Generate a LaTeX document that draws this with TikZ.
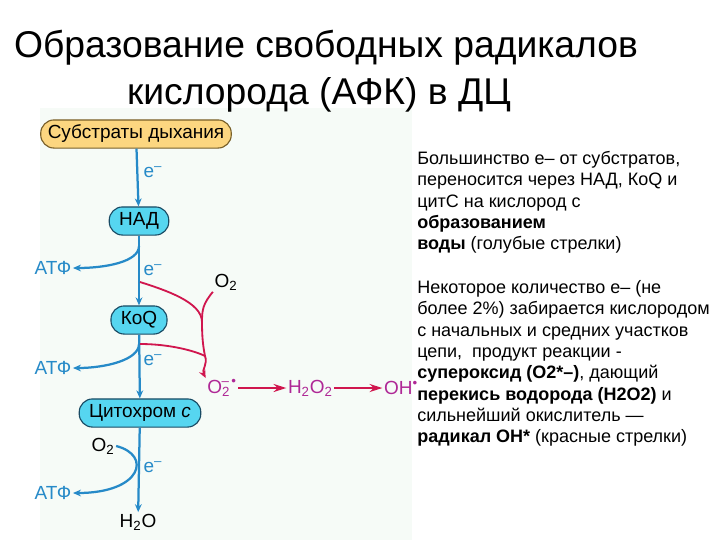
\documentclass[tikz,border=0pt]{standalone}
\usepackage{fontspec}
\setmainfont{Liberation Sans}
\usepackage{tikz}
\usetikzlibrary{arrows.meta, positioning}
\definecolor{chainblue}{RGB}{38,138,200}
\definecolor{boxcyan}{RGB}{86,214,240}
\definecolor{boxedge}{RGB}{25,75,100}
\definecolor{substyellow}{RGB}{252,214,128}
\definecolor{substedge}{RGB}{120,95,40}
\definecolor{radred}{RGB}{208,22,78}
\definecolor{radtext}{RGB}{175,40,150}
\definecolor{panelbg}{RGB}{246,251,247}

\begin{document}
\begin{tikzpicture}[
    x=0.025cm, y=-0.025cm,
    every node/.style={font=\fontsize{13.5}{15}\selectfont},
    title/.style={font=\fontsize{26.5}{32}\selectfont, inner sep=0pt},
    subst/.style={draw=substedge, fill=substyellow, rounded corners=9.5pt, minimum height=20pt, inner xsep=5pt, line width=0.8pt},
    carrier/.style={draw=boxedge, fill=boxcyan, rounded corners=9.5pt, minimum height=20pt, inner xsep=7pt, line width=0.8pt},
    lbl/.style={text=chainblue, inner sep=1pt},
    rad/.style={text=radtext, inner sep=1pt},
    note/.style={font=\fontsize{12.8}{15.2}\selectfont, align=left, anchor=north west, inner sep=0pt},
    bar/.style={-{Stealth[length=2mm, width=1.7mm]}, chainblue, line width=1.6pt},
    rline/.style={radred, line width=1.3pt},
    rar/.style={-{Stealth[length=2mm, width=1.7mm]}, radred, line width=1.3pt},
    har/.style={-{Stealth[length=3.2mm, width=2mm]}, radred, line width=2pt}
]
\useasboundingbox (0,0) rectangle (720,540);
\fill[panelbg] (40,108) rectangle (412,540);

% title
\node[title] (t1) at (326,48) {Образование свободных радикалов};
\node[title] (t2) at (319,95) {кислорода (АФК) в ДЦ};

% respiratory chain
\node[subst] (subst) at (136,134) {Субстраты дыхания};
\node[carrier] (nad) at (139,221) {НАД};
\node[carrier] (koq) at (139,320) {КоQ};
\node[carrier] (cyt) at (140,413) {Цитохром \textit{c}};
\node[inner sep=1pt] (h2o) at (138,522) {H\textsubscript{2}O};

\node[lbl, anchor=west] (e1) at (142,172) {e\textsuperscript{–}};
\node[lbl, anchor=west] (e2) at (142,270) {e\textsuperscript{–}};
\node[lbl, anchor=west] (e3) at (142,360) {e\textsuperscript{–}};
\node[lbl, anchor=west] (e4) at (142,467) {e\textsuperscript{–}};
\node[lbl] (atp1) at (53,268) {АТФ};
\node[lbl] (atp2) at (53,368) {АТФ};
\node[lbl] (atp3) at (53,493) {АТФ};
\node[inner sep=1pt] (o2low) at (103,446) {O\textsubscript{2}};

\draw[bar] (subst) -- (nad);
\draw[bar] (nad) -- (koq);
\draw[bar] (koq) -- (cyt);
\draw[bar] (cyt) -- (h2o);

\coordinate (br1) at (139,246);
\coordinate (br2) at (139,344);
\draw[bar] (br1) .. controls +(0,16) and +(32,0) .. (atp1.east);
\draw[bar] (br2) .. controls +(0,16) and +(32,0) .. (atp2.east);
\draw[bar] (o2low.east) .. controls (152,455) and (142,493) .. (atp3.east);

% radicals
\node[inner sep=1pt] (o2up) at (226,282) {O\textsubscript{2}};
\node[rad] (sup) at (222,388) {O\textsubscript{2}\kern-0.45em\textsuperscript{–\,•}};
\node[rad, right=1.2cm of sup] (h2o2) {H\textsubscript{2}O\textsubscript{2}};
\node[rad, right=1.2cm of h2o2] (oh) {OH\textsuperscript{•}};

\coordinate (r1) at (140,282);
\coordinate (r2) at (140,344);
\coordinate (join) at (202,322);
\coordinate (join2) at (205,356);
\draw[rline] (r1) .. controls +(25,8) and +(0,-20) .. (join);
\draw[rline] (o2up.south west) .. controls +(-10,12) and +(0,-12) .. (join);
\draw[rline] (join) .. controls +(0,15) and +(-2,-10) .. (join2);
\draw[rline] (r2) .. controls +(30,0) and +(-10,-5) .. (join2);
\draw[rar] (join2) .. controls +(3,8) and +(-4,-8) .. (sup.north west);
\draw[har] (sup) -- (h2o2);
\draw[har] (h2o2) -- (oh);

% explanation
\node[note] (p1) at (417,151) {Большинство е– от субстратов,\\
переносится через НАД, КоQ и\\
цитС на кислород с\\
\textbf{образованием}\\
\textbf{воды} (голубые стрелки)};
\node[note] (p2) at (417,280) {Некоторое количество е– (не\\
более 2\%) забирается кислородом\\
с начальных и средних участков\\
цепи,\ \ продукт реакции -\\
\textbf{супероксид (О2*–)}, дающий\\
\textbf{перекись водорода (Н2О2)} и\\
сильнейший окислитель —\\
\textbf{радикал ОН*} (красные стрелки)};
\end{tikzpicture}
\end{document}
